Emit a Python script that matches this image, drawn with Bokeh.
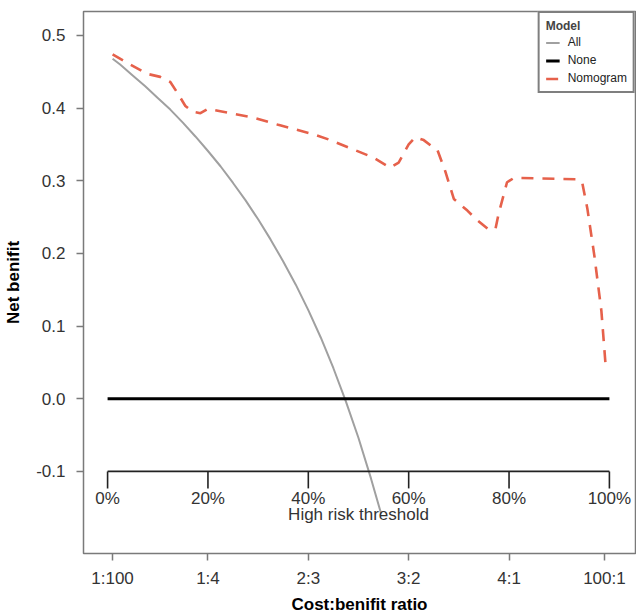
import numpy as np
from bokeh.plotting import figure
from bokeh.models import (Range1d, FixedTicker, CustomJSTickFormatter, Legend, LegendItem)
from bokeh.core.properties import value
from bokeh.embed import file_html
from bokeh.resources import INLINE

# ---- data ----
all_threshold = [0.01, 0.025, 0.05, 0.075, 0.10, 0.125, 0.15, 0.175, 0.20, 0.225, 0.25,
                 0.275, 0.30, 0.325, 0.35, 0.375, 0.40, 0.425, 0.45, 0.475, 0.50, 0.525, 0.545]
all_net_benefit = [0.468, 0.460, 0.445, 0.430, 0.414, 0.398, 0.380, 0.361, 0.341, 0.320, 0.297,
                   0.273, 0.247, 0.219, 0.189, 0.157, 0.122, 0.084, 0.042, -0.004, -0.054, -0.110, -0.158]

none_threshold = [0.0, 1.0]
none_net_benefit = [0.0, 0.0]

nomo_threshold = [0.01, 0.04, 0.08, 0.105, 0.125, 0.14, 0.155, 0.17, 0.185, 0.20, 0.23, 0.29,
                  0.34, 0.41, 0.44, 0.49, 0.53, 0.563, 0.58, 0.60, 0.613, 0.63, 0.645, 0.657,
                  0.673, 0.69, 0.717, 0.733, 0.759, 0.773, 0.779, 0.796, 0.81, 0.938, 0.946,
                  0.956, 0.97, 0.984, 0.992]
nomo_net_benefit = [0.474, 0.462, 0.447, 0.443, 0.436, 0.420, 0.403, 0.395, 0.393, 0.399, 0.395,
                    0.387, 0.377, 0.364, 0.357, 0.343, 0.332, 0.318, 0.325, 0.350, 0.360, 0.356,
                    0.348, 0.343, 0.313, 0.275, 0.259, 0.248, 0.233, 0.234, 0.254, 0.298, 0.304,
                    0.302, 0.297, 0.262, 0.197, 0.121, 0.050]

y_ticks = [-0.1, 0.0, 0.1, 0.2, 0.3, 0.4, 0.5]
ratio_ticks = [1 / 101, 0.2, 0.4, 0.6, 0.8, 100 / 101]
ratio_labels = ["1:100", "1:4", "2:3", "3:2", "4:1", "100:1"]
thr_ticks = [0.0, 0.2, 0.4, 0.6, 0.8, 1.0]
thr_labels = ["0%", "20%", "40%", "60%", "80%", "100%"]
thr_axis_y = -0.1
thr_title = "High risk threshold"

FONT = "Liberation Sans"
RED = "#E6614B"
GRAY = "#A0A0A0"
TXT = "17px"

p = figure(width=636, height=616, output_backend="svg", toolbar_location=None,
           x_range=Range1d(-0.048, 1.052), y_range=Range1d(-0.213, 0.533),
           min_border_left=83, min_border_right=1, min_border_top=11, min_border_bottom=60)
p.background_fill_color = "white"
p.border_fill_color = "white"
p.outline_line_color = "#7a7a7a"
p.outline_line_width = 1.5
p.xgrid.visible = False
p.ygrid.visible = False

# axes
for ax in (p.xaxis[0], p.yaxis[0]):
    ax.axis_line_color = None
    ax.major_tick_line_color = "#7a7a7a"
    ax.major_tick_line_width = 1.5
    ax.major_tick_out = 7
    ax.major_tick_in = 0
    ax.minor_tick_line_color = None
    ax.major_label_text_font = FONT
    ax.major_label_text_font_size = TXT
    ax.major_label_text_color = "#333333"
    ax.axis_label_text_font = FONT
    ax.axis_label_text_font_size = TXT
    ax.axis_label_text_font_style = "bold"
    ax.axis_label_text_color = "black"

p.xaxis.ticker = FixedTicker(ticks=ratio_ticks)
p.xaxis.formatter = CustomJSTickFormatter(args=dict(labels=ratio_labels),
                                          code="return labels[index];")
p.xaxis.axis_label = "Cost:benifit ratio"
p.xaxis.major_label_standoff = 8
p.xaxis.axis_label_standoff = 4

p.yaxis.ticker = FixedTicker(ticks=y_ticks)
p.yaxis.formatter = CustomJSTickFormatter(code="return tick.toFixed(1);")
p.yaxis.axis_label = "Net benifit"
p.yaxis.major_label_standoff = 11
p.yaxis.axis_label_standoff = 10
p.yaxis.major_label_orientation = "horizontal"

# curves
r_all = p.line(all_threshold, all_net_benefit, line_color=GRAY, line_width=2)
r_none = p.line(none_threshold, none_net_benefit, line_color="black", line_width=3)
r_nomo = p.line(nomo_threshold, nomo_net_benefit, line_color=RED, line_width=2.6,
                line_dash="12 9")

# inner threshold axis
p.segment(x0=[thr_ticks[0]], y0=[thr_axis_y], x1=[thr_ticks[-1]], y1=[thr_axis_y],
          line_color="#222222", line_width=1.6)
p.ray(x=thr_ticks, y=[thr_axis_y] * len(thr_ticks), length=17, length_units="screen",
      angle=-np.pi / 2, line_color="#222222", line_width=1.6)
p.text(x=thr_ticks, y=[thr_axis_y] * len(thr_ticks), text=thr_labels, y_offset=27,
       text_align="center", text_baseline="middle", text_font=value(FONT),
       text_font_size=TXT, text_color="#333333")
p.text(x=[(thr_ticks[0] + thr_ticks[-1]) / 2], y=[thr_axis_y], text=[thr_title], y_offset=43,
       text_align="center", text_baseline="middle", text_font=value(FONT),
       text_font_size=TXT, text_color="#333333")

legend = Legend(items=[LegendItem(label="All", renderers=[r_all]),
                       LegendItem(label="None", renderers=[r_none]),
                       LegendItem(label="Nomogram", renderers=[r_nomo])],
                location="top_right", title="Model")
legend.margin = 0
legend.padding = 6
legend.spacing = 4
legend.border_line_color = "black"
legend.border_line_width = 2
legend.background_fill_color = "white"
legend.background_fill_alpha = 1
legend.title_text_font = FONT
legend.title_text_font_size = "12px"
legend.title_text_font_style = "bold"
legend.title_standoff = 2
legend.label_text_font = FONT
legend.label_text_font_size = "12px"
legend.label_text_color = "#222222"
legend.label_height = 13
legend.glyph_height = 13
legend.glyph_width = 14
legend.label_standoff = 8
p.add_layout(legend)

open("out.html", "w").write(file_html(p, INLINE))
